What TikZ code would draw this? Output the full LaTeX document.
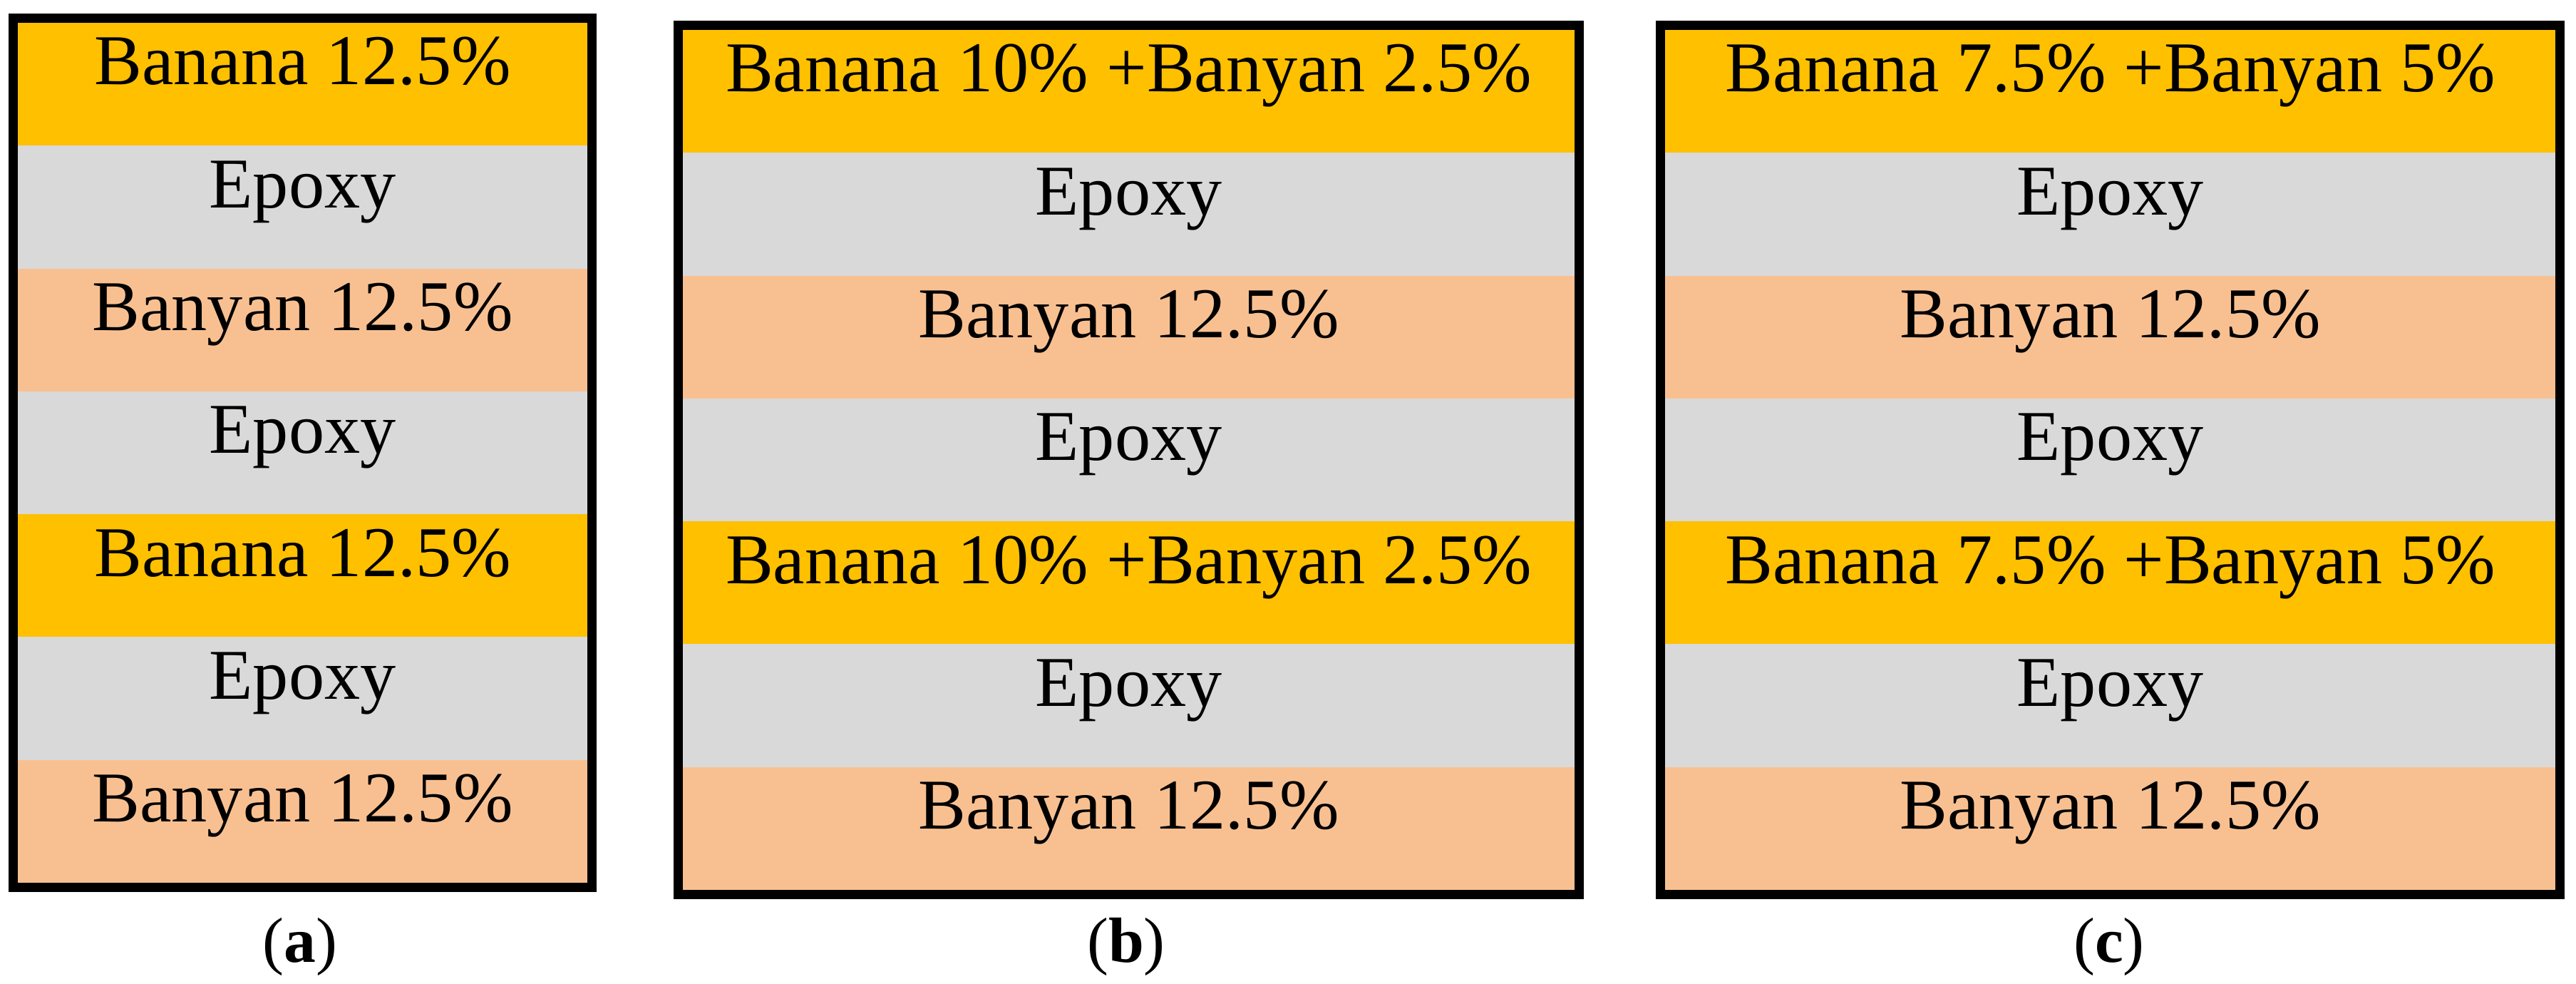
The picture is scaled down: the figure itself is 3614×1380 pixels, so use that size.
\documentclass[tikz,border=0pt]{standalone}
\usepackage{fontspec}
\setmainfont{Liberation Serif}
\definecolor{bnY}{HTML}{FFC000}
\definecolor{epG}{HTML}{D9D9D9}
\definecolor{byP}{HTML}{F8C091}
\tikzset{
  layertxt/.style={anchor=base, inner sep=0pt, font=\fontsize{28.5}{30}\selectfont},
  frame/.style={draw=black, line width=3.7pt},
  caplbl/.style={inner sep=0pt, font=\fontsize{25.5}{27}\selectfont},
}
% #1 name prefix, #2 left, #3 right, #4 top (inner), #5 yellow text
\newcommand{\mkpanel}[5]{%
  \pgfmathsetmacro{\cx}{(#2+#3)/2}%
  \foreach \i/\col/\txt in {0/bnY/{#5},1/epG/Epoxy,2/byP/Banyan 12.5\%,3/epG/Epoxy,4/bnY/{#5},5/epG/Epoxy,6/byP/Banyan 12.5\%}{%
    \pgfmathsetmacro{\yt}{#4+\i*172.286}%
    \pgfmathsetmacro{\yb}{#4+(\i+1)*172.286}%
    \fill[\col] (#2,\yt) rectangle (#3,\yb);
    \node[layertxt] (#1l\i) at (\cx,\yt+87) {\txt};
  }%
}
\begin{document}
\begin{tikzpicture}[x=0.01cm,y=-0.01cm]
\useasboundingbox (0,0) rectangle (3614,1380);
\mkpanel{a}{25}{824}{32}{Banana 12.5\%}
\draw[frame] (18.5,25.5) rectangle (830.5,1244.5);
\mkpanel{b}{958}{2209}{42}{Banana 10\% +Banyan 2.5\%}
\draw[frame] (951.5,35.5) rectangle (2215.5,1254.5);
\mkpanel{c}{2336}{3585}{42}{Banana 7.5\% +Banyan 5\%}
\draw[frame] (2329.5,35.5) rectangle (3591.5,1254.5);
\node[caplbl] (capa) at (421,1328) {(\textbf{a})};
\node[caplbl] (capb) at (1580,1328) {(\textbf{b})};
\node[caplbl] (capc) at (2959,1328) {(\textbf{c})};
\end{tikzpicture}
\end{document}
